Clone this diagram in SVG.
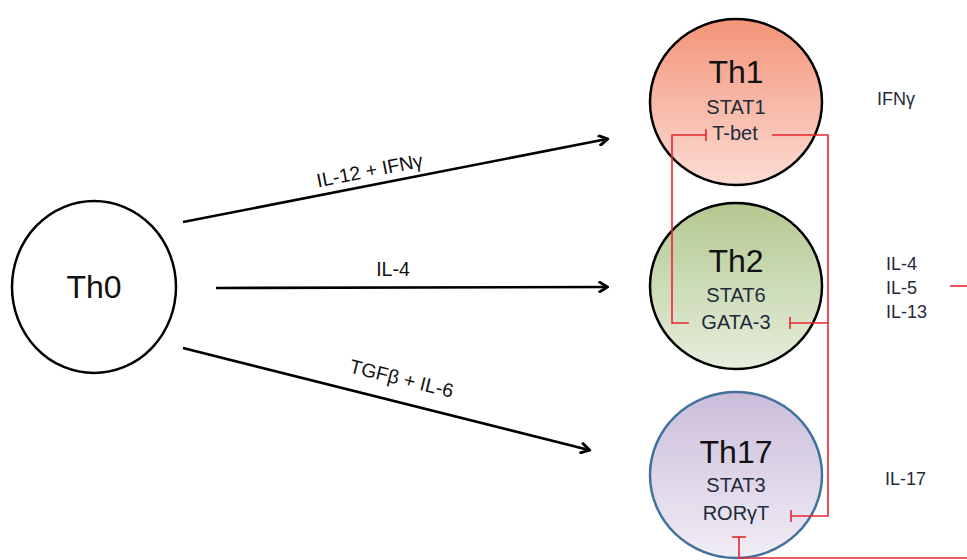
<svg xmlns="http://www.w3.org/2000/svg" width="967" height="560" viewBox="0 0 967 560">
<defs>
<style>
.t{font-family:"Liberation Sans",Arial,sans-serif;fill:#111;}
.big{font-size:32px;}
.sub{font-size:20px;fill:#1f2a3a;}
.lab{font-size:19.5px;}
.cyt{font-size:18px;fill:#1f2a3a;}
.arr{stroke:#000;stroke-width:2.6;fill:none;marker-end:url(#ah);}
.inh{stroke:#e8262e;stroke-width:1.6;fill:none;}
</style>
<marker id="ah" markerWidth="12" markerHeight="12" refX="8" refY="5" orient="auto" markerUnits="userSpaceOnUse" viewBox="0 0 10 10">
<path d="M1,0.5 L8.5,5 L1,9.5" fill="none" stroke="#000" stroke-width="2.4" stroke-linejoin="miter"/>
</marker>
<linearGradient id="g1" x1="0" y1="0" x2="0" y2="1"><stop offset="0" stop-color="#f39479"/><stop offset="1" stop-color="#fcdcd3"/></linearGradient>
<linearGradient id="g2" x1="0" y1="0" x2="0" y2="1"><stop offset="0" stop-color="#b4c891"/><stop offset="1" stop-color="#e6eedc"/></linearGradient>
<linearGradient id="g3" x1="0" y1="0" x2="0" y2="1"><stop offset="0" stop-color="#cbbdda"/><stop offset="1" stop-color="#f1edf6"/></linearGradient>
</defs>
<rect width="967" height="560" fill="#fff"/>

<g id="th0">
<ellipse cx="94" cy="287" rx="82" ry="86" fill="#fff" stroke="#000" stroke-width="2.5"/>
<text class="t big" x="94" y="298" text-anchor="middle">Th0</text>
</g>

<g id="th1">
<ellipse cx="736" cy="102" rx="86" ry="83" fill="url(#g1)" stroke="#000" stroke-width="2.5"/>
<text class="t big" x="736" y="83" text-anchor="middle">Th1</text>
<text class="t sub" x="736" y="114" text-anchor="middle">STAT1</text>
<text class="t sub" x="735" y="140" text-anchor="middle">T-bet</text>
</g>

<g id="th2">
<ellipse cx="736" cy="286" rx="86" ry="83" fill="url(#g2)" stroke="#000" stroke-width="2.5"/>
<text class="t big" x="736" y="272" text-anchor="middle">Th2</text>
<text class="t sub" x="736" y="302" text-anchor="middle">STAT6</text>
<text class="t sub" x="736" y="329" text-anchor="middle">GATA-3</text>
</g>

<g id="th17">
<ellipse cx="736" cy="475" rx="86" ry="83" fill="url(#g3)" stroke="#41719c" stroke-width="2.5"/>
<text class="t big" x="736" y="463" text-anchor="middle">Th17</text>
<text class="t sub" x="736" y="492" text-anchor="middle">STAT3</text>
<text class="t sub" x="736" y="520" text-anchor="middle">RORγT</text>
</g>

<g id="cytokines">
<text class="t cyt" x="877" y="105">IFNγ</text>
<text class="t cyt" x="886" y="270">IL-4</text>
<text class="t cyt" x="886" y="294">IL-5</text>
<text class="t cyt" x="886" y="318">IL-13</text>
<text class="t cyt" x="885" y="485">IL-17</text>
</g>

<g id="connectors">
<line class="arr" x1="183" y1="222" x2="607" y2="139"/>
<line class="arr" x1="216" y1="288" x2="607" y2="287"/>
<line class="arr" x1="183" y1="348" x2="589" y2="450"/>
<text class="t lab" transform="translate(371,177) rotate(-11.1)" text-anchor="middle">IL-12 + IFNγ</text>
<text class="t lab" x="393" y="276" text-anchor="middle">IL-4</text>
<text class="t lab" transform="translate(400,385) rotate(13.9)" text-anchor="middle">TGFβ + IL-6</text>

<polyline class="inh" points="689,323 672,323 672,135 706,135"/>
<line class="inh" x1="706" y1="129" x2="706" y2="141"/>
<polyline class="inh" points="772,135 828,135 828,516 791,516"/>
<line class="inh" x1="791" y1="510" x2="791" y2="522"/>
<line class="inh" x1="828" y1="323" x2="790" y2="323"/>
<line class="inh" x1="790" y1="317" x2="790" y2="329"/>
<polyline class="inh" points="967,558 739,558 739,537"/>
<line class="inh" x1="732" y1="537" x2="746" y2="537"/>
<line class="inh" x1="950" y1="286" x2="967" y2="286"/>
</g>
</svg>
